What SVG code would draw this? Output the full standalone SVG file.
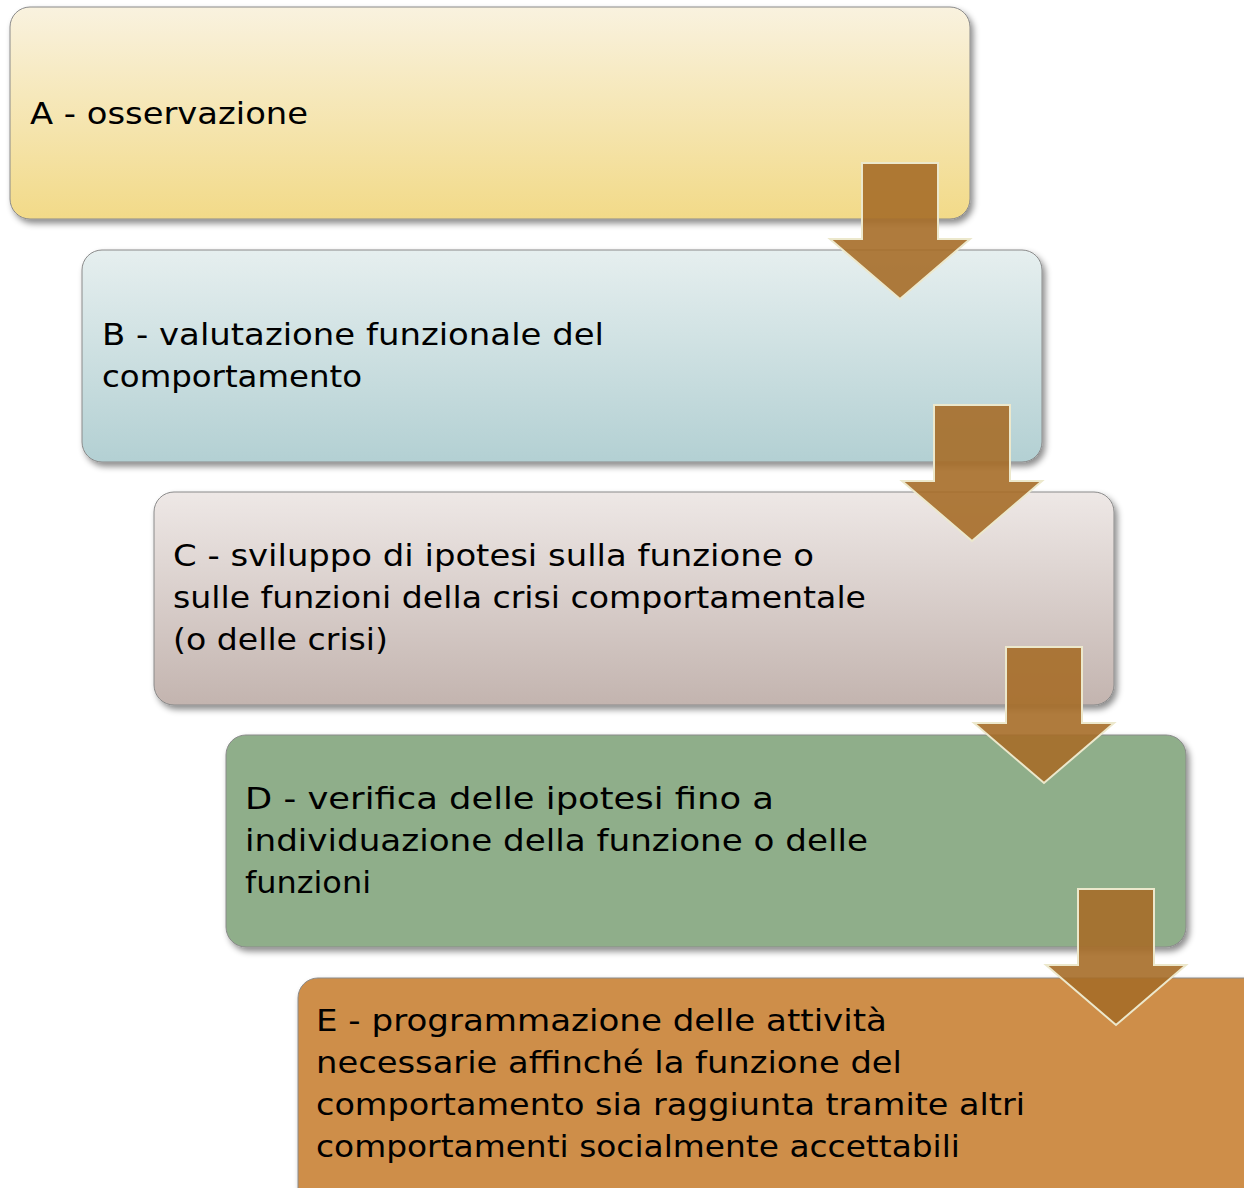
<svg xmlns="http://www.w3.org/2000/svg" width="1244" height="1188" viewBox="0 0 1244 1188">
<defs>
<linearGradient id="gA" x1="0" y1="0" x2="0" y2="1"><stop offset="0" stop-color="#f9f2df"/><stop offset="1" stop-color="#f2da88"/></linearGradient>
<linearGradient id="gB" x1="0" y1="0" x2="0" y2="1"><stop offset="0" stop-color="#e6efef"/><stop offset="1" stop-color="#b3d0d3"/></linearGradient>
<linearGradient id="gC" x1="0" y1="0" x2="0" y2="1"><stop offset="0" stop-color="#eee8e6"/><stop offset="1" stop-color="#c3b4af"/></linearGradient>
<filter id="sh" x="-5%" y="-5%" width="110%" height="115%"><feDropShadow dx="3" dy="4" stdDeviation="3" flood-color="#000" flood-opacity="0.45"/></filter>
<path id="arrow" d="M-38,0 H38 V76 H70 L0,136 L-70,76 H-38 Z"/>
</defs>
<style>
.box{stroke:#8a8a8a;stroke-width:1;filter:url(#sh)}
.t{font-family:"DejaVu Sans","Liberation Sans",sans-serif;font-size:30px;fill:#000}
.arr{fill:#a66d28;fill-opacity:0.9;stroke:#ece8cc;stroke-width:2}
</style>
<g id="nodeA"><rect class="box" x="10" y="7" width="960" height="212" rx="20" fill="url(#gA)"/>
<text class="t" x="30" y="124" textLength="278" lengthAdjust="spacingAndGlyphs">A - osservazione</text></g>
<g id="nodeB"><rect class="box" x="82" y="250" width="960" height="212" rx="20" fill="url(#gB)"/>
<text class="t" x="102" y="345" textLength="502" lengthAdjust="spacingAndGlyphs">B - valutazione funzionale del</text>
<text class="t" x="102" y="387" textLength="260" lengthAdjust="spacingAndGlyphs">comportamento</text></g>
<g id="nodeC"><rect class="box" x="154" y="492" width="960" height="213" rx="20" fill="url(#gC)"/>
<text class="t" x="173" y="566" textLength="641" lengthAdjust="spacingAndGlyphs">C - sviluppo di ipotesi sulla funzione o</text>
<text class="t" x="173" y="608" textLength="693" lengthAdjust="spacingAndGlyphs">sulle funzioni della crisi comportamentale</text>
<text class="t" x="173" y="650" textLength="215" lengthAdjust="spacingAndGlyphs">(o delle crisi)</text></g>
<g id="nodeD"><rect class="box" x="226" y="735" width="960" height="212" rx="20" fill="#8fae8a"/>
<text class="t" x="245" y="809" textLength="529" lengthAdjust="spacingAndGlyphs">D - verifica delle ipotesi fino a</text>
<text class="t" x="245" y="851" textLength="623" lengthAdjust="spacingAndGlyphs">individuazione della funzione o delle</text>
<text class="t" x="245" y="893" textLength="126" lengthAdjust="spacingAndGlyphs">funzioni</text></g>
<g id="nodeE"><rect class="box" x="298" y="978" width="980" height="240" rx="20" fill="#ce8e48"/>
<text class="t" x="316" y="1031" textLength="571" lengthAdjust="spacingAndGlyphs">E - programmazione delle attività</text>
<text class="t" x="316" y="1073" textLength="586" lengthAdjust="spacingAndGlyphs">necessarie affinché la funzione del</text>
<text class="t" x="316" y="1115" textLength="709" lengthAdjust="spacingAndGlyphs">comportamento sia raggiunta tramite altri</text>
<text class="t" x="316" y="1157" textLength="644" lengthAdjust="spacingAndGlyphs">comportamenti socialmente accettabili</text></g>
<g id="connectors">
<use href="#arrow" class="arr" x="900" y="163"/>
<use href="#arrow" class="arr" x="972" y="405"/>
<use href="#arrow" class="arr" x="1044" y="647"/>
<use href="#arrow" class="arr" x="1116" y="889"/>
</g>
</svg>
